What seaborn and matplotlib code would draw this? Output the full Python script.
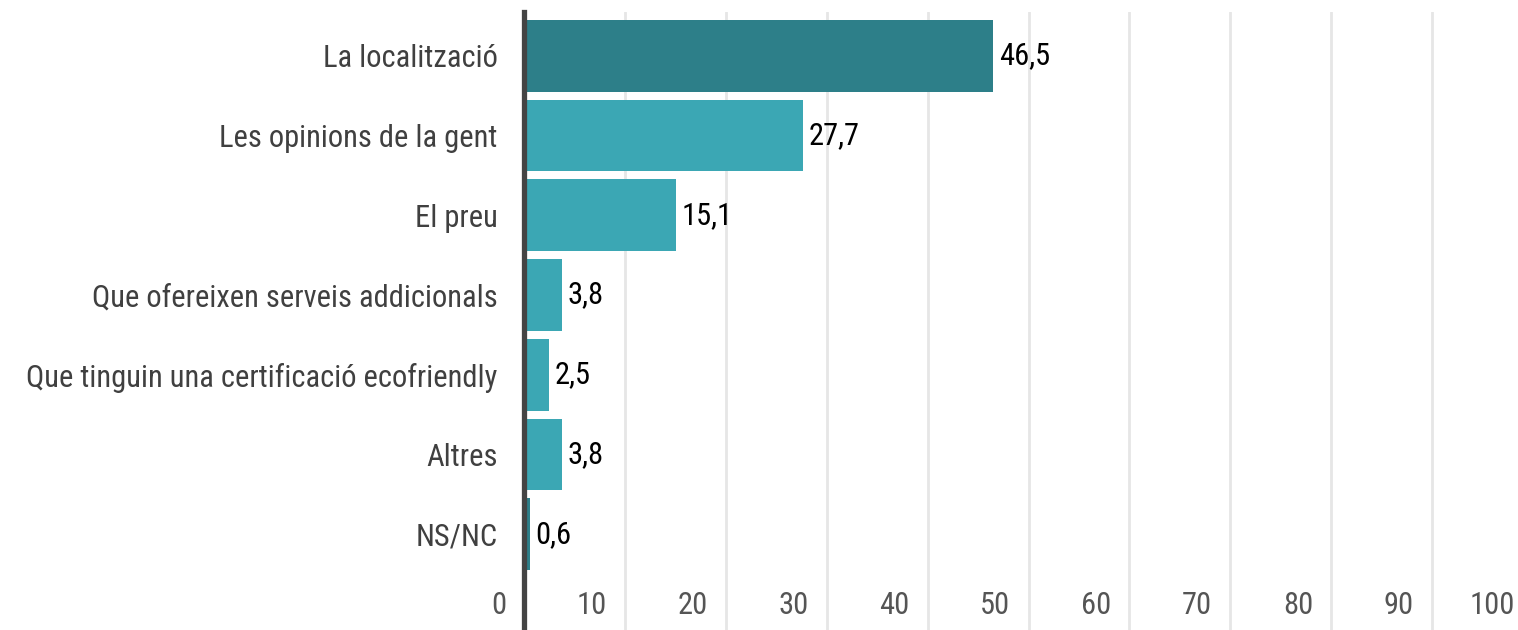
import matplotlib
matplotlib.use("Agg")
import matplotlib.pyplot as plt
from matplotlib import font_manager
from matplotlib.transforms import ScaledTranslation
import pandas as pd
import seaborn as sns

# Data
categories = ['La localització', 'Les opinions de la gent', 'El preu',
              'Que ofereixen serveis addicionals',
              'Que tinguin una certificació ecofriendly', 'Altres', 'NS/NC']
values = [46.5, 27.7, 15.1, 3.8, 2.5, 3.8, 0.6]
value_labels = ['46,5', '27,7', '15,1', '3,8', '2,5', '3,8', '0,6']
x_ticks = [0, 10, 20, 30, 40, 50, 60, 70, 80, 90, 100]

dark = '#2D7F89'
light = '#3BA7B4'
bar_colors = [dark, light, light, light, light, light, dark]

df = pd.DataFrame({'cat': categories, 'val': values})

sns.set_theme(style="white")

# pick a narrow font if there is one
font_name = 'DejaVu Sans'
font_size = 17
for name, size in [('Liberation Sans Narrow', 22), ('Roboto Condensed', 22), ('Open Sans Condensed', 22)]:
    try:
        font_manager.findfont(name, fallback_to_default=False)
        font_name, font_size = name, size
        break
    except Exception:
        pass
plt.rcParams['font.family'] = [font_name, 'DejaVu Sans']

fig = plt.figure(figsize=(15.18, 6.3), dpi=100)
ax = fig.add_axes([524 / 1518, 0, (1533 - 524) / 1518, 1 - 12 / 630])

sns.barplot(data=df, y='cat', x='val', hue='cat', palette=bar_colors,
            width=0.9, legend=False, ax=ax, saturation=1, linewidth=0)

ax.set_xlim(0, 100)
ax.set_ylim(7.2, -0.55)
ax.set_xticks(x_ticks)
ax.set_xticklabels([str(t) for t in x_ticks])
ax.set_xlabel('')
ax.set_ylabel('')

# grid
ax.grid(axis='x', color='#E6E6E6', linewidth=2)
ax.grid(axis='y', visible=False)
ax.set_axisbelow(True)

for s in ['top', 'right', 'bottom']:
    ax.spines[s].set_visible(False)
ax.spines['left'].set_color('#444444')
ax.spines['left'].set_linewidth(3.8)
ax.spines['left'].set_zorder(5)

ax.tick_params(axis='y', length=0, pad=19, labelsize=font_size, labelcolor='#404040')
ax.tick_params(axis='x', length=0, pad=-28, labelsize=font_size, labelcolor='#555555')

# x tick labels sit to the left of their gridline
shift = ScaledTranslation(-18 / 100, 0, fig.dpi_scale_trans)
for lbl in ax.get_xticklabels():
    lbl.set_horizontalalignment('right')
    lbl.set_transform(lbl.get_transform() + shift)

# value labels
for i, (v, txt) in enumerate(zip(values, value_labels)):
    ax.annotate(txt, (v, i), xytext=(4, 0), textcoords='offset points',
                ha='left', va='center', fontsize=font_size, color='black')

fig.savefig('out.png', dpi=100)
